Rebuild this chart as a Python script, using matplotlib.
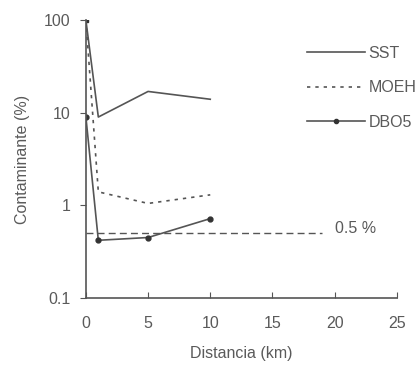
import matplotlib.pyplot as plt
import numpy as np
from matplotlib.lines import Line2D

plt.rcParams['font.family'] = ['Liberation Sans', 'DejaVu Sans']

# valores
dist = [0, 1, 5, 10]
sst = [100, 9, 17, 14]
moeh = [100, 1.4, 1.05, 1.3]
dbo5 = [9, 0.42, 0.45, 0.72]
limite = 0.5
dist_lim = [0, 19]

gris = '#555555'
txt = '#5a5a5a'
fs = 11.5

fig = plt.figure(figsize=(4.19, 3.67), dpi=100)
ax = fig.add_axes([0.205, 0.188, 0.742, 0.757])

ax.plot(dist, sst, color=gris, lw=1.2)
ax.plot(dist[:1], sst[:1], 's', color='#333333', ms=3)
ax.plot(dist, moeh, color=gris, lw=1.2, ls=(0, (2, 3)))
ax.plot(dist, dbo5, color=gris, lw=1.2, marker='o', ms=3.5, mfc='#333333', mec='#333333')
ax.plot(dist_lim, [limite, limite], color=gris, lw=1.0, ls=(0, (5, 3)))
ax.text(20, 0.57, '0.5 %', color=txt, fontsize=fs, va='center')

ax.set_yscale('log')
ax.set_xlim(0, 25)
ax.set_ylim(0.1, 100)
ax.set_xticks([0, 5, 10, 15, 20, 25])
ax.set_yticks([0.1, 1, 10, 100])
ax.set_yticklabels(['0.1', '1', '10', '100'])
ax.yaxis.set_minor_locator(plt.NullLocator())

for s in ['top', 'right']:
    ax.spines[s].set_visible(False)
for s in ['left', 'bottom']:
    ax.spines[s].set_color(gris)
    ax.spines[s].set_linewidth(1.2)

ax.tick_params(axis='x', direction='in', length=4, color=gris, labelcolor=txt, labelsize=fs, pad=13)
ax.tick_params(axis='y', direction='out', length=4, color=gris, labelcolor=txt, labelsize=fs, pad=7)

ax.set_xlabel('Distancia (km)', color=txt, fontsize=fs, labelpad=11)
ax.set_ylabel('Contaminante (%)', color=txt, fontsize=fs, labelpad=10)

handles = [
    Line2D([], [], color=gris, lw=1.2),
    Line2D([], [], color=gris, lw=1.2, ls=(0, (2, 3))),
    Line2D([], [], color=gris, lw=1.2, marker='o', ms=3, mfc='#333333', mec='#333333'),
]
leg = ax.legend(handles, ['SST', 'MOEH', 'DBO5'], loc='upper left', bbox_to_anchor=(0.665, 0.96),
                frameon=False, fontsize=fs, handlelength=3.6, handletextpad=0.25,
                labelspacing=1.22, numpoints=1)
for t in leg.get_texts():
    t.set_color(txt)

fig.savefig('out.png', dpi=100)
